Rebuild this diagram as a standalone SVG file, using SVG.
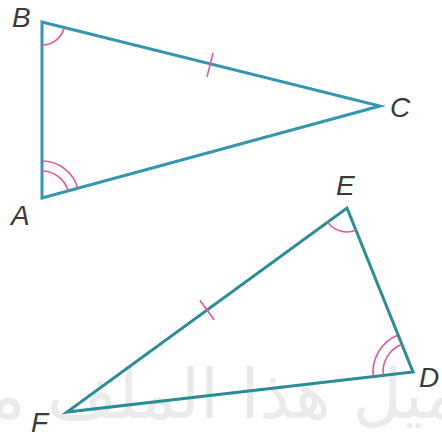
<svg xmlns="http://www.w3.org/2000/svg" width="442" height="438" viewBox="0 0 442 438">
<style>
.wm{font-family:"DejaVu Sans",sans-serif;font-size:68px;fill:#eaeaea}
.tri1{fill:none;stroke:#3596b0;stroke-width:3;stroke-linejoin:miter}
.tri2{fill:none;stroke:#2a8d96;stroke-width:3;stroke-linejoin:miter}
.ang{fill:none;stroke:#e2559c;stroke-width:1.6}
.lbl{font-family:"Liberation Sans",Arial,sans-serif;font-style:italic;font-size:28px;fill:#3a3a3a}
</style>
<rect width="442" height="438" fill="#ffffff"/>
<text class="wm" x="232" y="418" text-anchor="middle" direction="rtl">تحميل هذا الملف من</text>
<g id="connectors">
<polygon id="triangle-ABC" class="tri1" points="42,22 380,106 42,198"/>
<polygon id="triangle-DEF" class="tri2" points="347,208 413,372 67,412"/>
</g>
<g id="marks">
<path class="ang" d="M42,45 A23,23 0 0 0 64.3,27.5"/>
<path class="ang" d="M42,171 A27,27 0 0 1 68.1,190.9"/>
<path class="ang" d="M42,161 A37,37 0 0 1 77.7,188.3"/>
<path class="ang" d="M327.6,222.1 A24,24 0 0 0 356,230.3"/>
<path class="ang" d="M401.8,344.2 A30,30 0 0 0 383.2,375.5"/>
<path class="ang" d="M398.1,334.9 A40,40 0 0 0 373.3,376.6"/>
<line class="ang" x1="213" y1="53" x2="207" y2="77"/>
<line class="ang" x1="199.9" y1="300.3" x2="214.1" y2="319.7"/>
</g>
<g id="node-B"><text class="lbl" x="12" y="27">B</text></g>
<g id="node-A"><text class="lbl" x="11" y="225">A</text></g>
<g id="node-C"><text class="lbl" x="390" y="117">C</text></g>
<g id="node-E"><text class="lbl" x="336" y="195">E</text></g>
<g id="node-D"><text class="lbl" x="419" y="387">D</text></g>
<g id="node-F"><text class="lbl" x="31" y="432">F</text></g>
</svg>
